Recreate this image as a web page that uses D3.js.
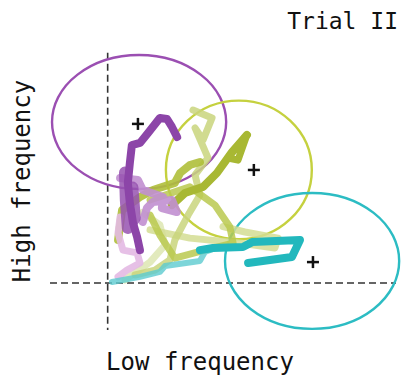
<!DOCTYPE html>
<html>
<head>
<meta charset="utf-8">
<script src="https://cdn.jsdelivr.net/npm/d3@7"></script>
<style>
  html, body { margin: 0; padding: 0; background: #fff; }
  text { font-family: "DejaVu Sans Mono", "Liberation Mono", monospace; fill: #111; }
</style>
</head>
<body>
<div id="chart"></div>
<script>
// ellipses: [cx, cy, rx, ry] in data units, with cluster centre marks
const clusterNames = ['purple', 'olive', 'cyan'];
const clusterColors = ['#9b4fb2', '#c5d13f', '#2cbcc3'];
const ellipses = [[10.9, 68.5, 30.2, 28.5], [45.5, 48.1, 25.3, 29.5], [70.9, 9.4, 30.2, 28.9]];
const centres = [[10.5, 67.7], [50.7, 48.1], [71.2, 8.9]];

// trajectory strands (data units)
const palePath = [[6.0,1.3],[14.7,8.9],[19.9,16.2],[18.1,24.7],[12.0,30.0]];
const lightGreenLoop = [[29.6,73.6],[36.2,70.2],[33.1,60.9],[30.3,66.0],[34.8,53.2],[30.3,46.0],[32.0,37.4],[27.9,28.9],[23.3,18.3],[21.6,9.8],[16.4,5.5],[9.5,3.4]];
const lightGreenLow = [[14.7,22.6],[28.5,19.1],[45.8,17.0],[58.0,14.9],[59.1,19.1],[47.6,21.7],[40.0,24.0]];
const oliveMid = [[14.7,35.3],[28.5,40.9],[37.2,33.2],[42.4,23.8],[43.5,17.0],[33.7,14.0],[23.3,10.6],[18.1,20.4],[14.7,28.9]];
const oliveStrand = [[32.0,51.5],[28.5,50.2],[25.1,46.8],[23.3,42.6],[15.7,39.6],[11.2,36.6],[5.0,31.1],[3.6,18.3]];
const oliveArrow = [[22.3,33.2],[26.8,38.3],[33.1,40.9],[37.9,46.8],[43.1,55.7],[48.3,63.0]];
const oliveHead = [[48.3,63.0],[45.2,52.3],[41.7,53.2],[48.3,63.0]];
const lilacLow = [[4.3,28.1],[3.6,21.3],[5.3,14.0],[10.2,12.8],[11.2,8.5],[6.7,5.5],[3.6,2.6]];
const orchidPath = [[4.3,44.7],[10.5,43.8],[12.2,39.6],[19.2,36.6],[18.8,31.9],[24.0,30.2],[22.3,35.3],[15.7,34.5],[13.6,31.9],[12.2,26.0]];
const purpleWide = [[6.0,47.0],[6.3,35.3],[7.0,23.4],[9.4,27.7],[8.6,40.6]];
const purpleMain = [[24.1,62.1],[22.3,66.4],[20.6,69.8],[18.1,70.2],[14.0,63.8],[11.2,59.6],[8.4,58.7],[7.7,51.1],[7.0,42.6],[7.7,34.0],[8.8,25.5],[10.2,19.6],[11.2,14.0]];
const cyanFaint = [[1.5,0.4],[11.2,2.6],[18.1,4.7],[19.9,7.2],[32.0,9.4],[33.7,13.2],[36.5,14.5]];
const cyanMain = [[32.0,14.0],[36.5,14.9],[46.9,15.3],[50.1,17.4],[66.7,18.3],[63.9,11.1],[48.7,8.5]];

const strands = [
  { pts: palePath, color: '#dfe8b6', width: 7, op: 0.9 },
  { pts: lightGreenLow, color: '#d3dd93', width: 7, op: 0.85 },
  { pts: lightGreenLoop, color: '#c9d57c', width: 7, op: 0.85 },
  { pts: oliveMid, color: '#bac94f', width: 7, op: 0.85 },
  { pts: oliveStrand, color: '#afbf3a', width: 8, op: 0.9 },
  { pts: oliveArrow, color: '#a8b833', width: 8, op: 1 },
  { pts: oliveHead, color: '#a8b833', width: 7, op: 1 },
  { pts: lilacLow, color: '#e3b9e3', width: 7, op: 0.9 },
  { pts: orchidPath, color: '#c18fd0', width: 8, op: 0.9 },
  { pts: purpleWide, color: '#9652b0', width: 12, op: 0.85 },
  { pts: purpleMain, color: '#8c45a8', width: 8, op: 1 },
  { pts: cyanFaint, color: '#5ccbd0', width: 6, op: 0.8 },
  { pts: cyanMain, color: '#22b8bd', width: 8, op: 1 }
];

const width = 402, height = 377;
const svg = d3.select('#chart').append('svg').attr('width', width).attr('height', height);

const x = d3.scaleLinear().domain([-20, 100]).range([50, 396]);
const y = d3.scaleLinear().domain([-20, 100]).range([330, 48]);

// axes as dashed cross
svg.append('line').attr('x1', x(-20)).attr('x2', x(100)).attr('y1', y(0)).attr('y2', y(0))
  .attr('stroke', '#333').attr('stroke-width', 1.6).attr('stroke-dasharray', '7,4');
svg.append('line').attr('x1', x(0)).attr('x2', x(0)).attr('y1', y(98)).attr('y2', y(-20))
  .attr('stroke', '#333').attr('stroke-width', 1.6).attr('stroke-dasharray', '7,4');

// ellipses
svg.selectAll('ellipse').data(ellipses).enter().append('ellipse')
  .attr('cx', d => x(d[0])).attr('cy', d => y(d[1]))
  .attr('rx', d => x(d[2]) - x(0)).attr('ry', d => y(0) - y(d[3]))
  .attr('fill', 'none').attr('stroke', (d, i) => clusterColors[i]).attr('stroke-width', 2.4);

const line = d3.line().x(d => x(d[0])).y(d => y(d[1]));
svg.selectAll('path.strand').data(strands).enter().append('path')
  .attr('class', 'strand')
  .attr('d', d => line(d.pts))
  .attr('fill', 'none').attr('stroke', d => d.color).attr('stroke-width', d => d.width)
  .attr('stroke-opacity', d => d.op)
  .attr('stroke-linecap', 'round').attr('stroke-linejoin', 'round');

// centre marks
const plus = svg.selectAll('g.plus').data(centres).enter().append('g')
  .attr('transform', d => `translate(${x(d[0])},${y(d[1])})`);
plus.append('line').attr('x1', -6).attr('x2', 6).attr('stroke', '#111').attr('stroke-width', 2.5);
plus.append('line').attr('y1', -6).attr('y2', 6).attr('stroke', '#111').attr('stroke-width', 2.5);

svg.append('text').attr('x', 398).attr('y', 29).attr('text-anchor', 'end')
  .style('font-size', '23px').text('Trial II');
svg.append('text').attr('x', 200).attr('y', 370).attr('text-anchor', 'middle')
  .style('font-size', '24px').text('Low frequency');
svg.append('text').attr('transform', 'translate(30,181) rotate(-90)').attr('text-anchor', 'middle')
  .style('font-size', '24px').text('High frequency');
</script>
</body>
</html>
